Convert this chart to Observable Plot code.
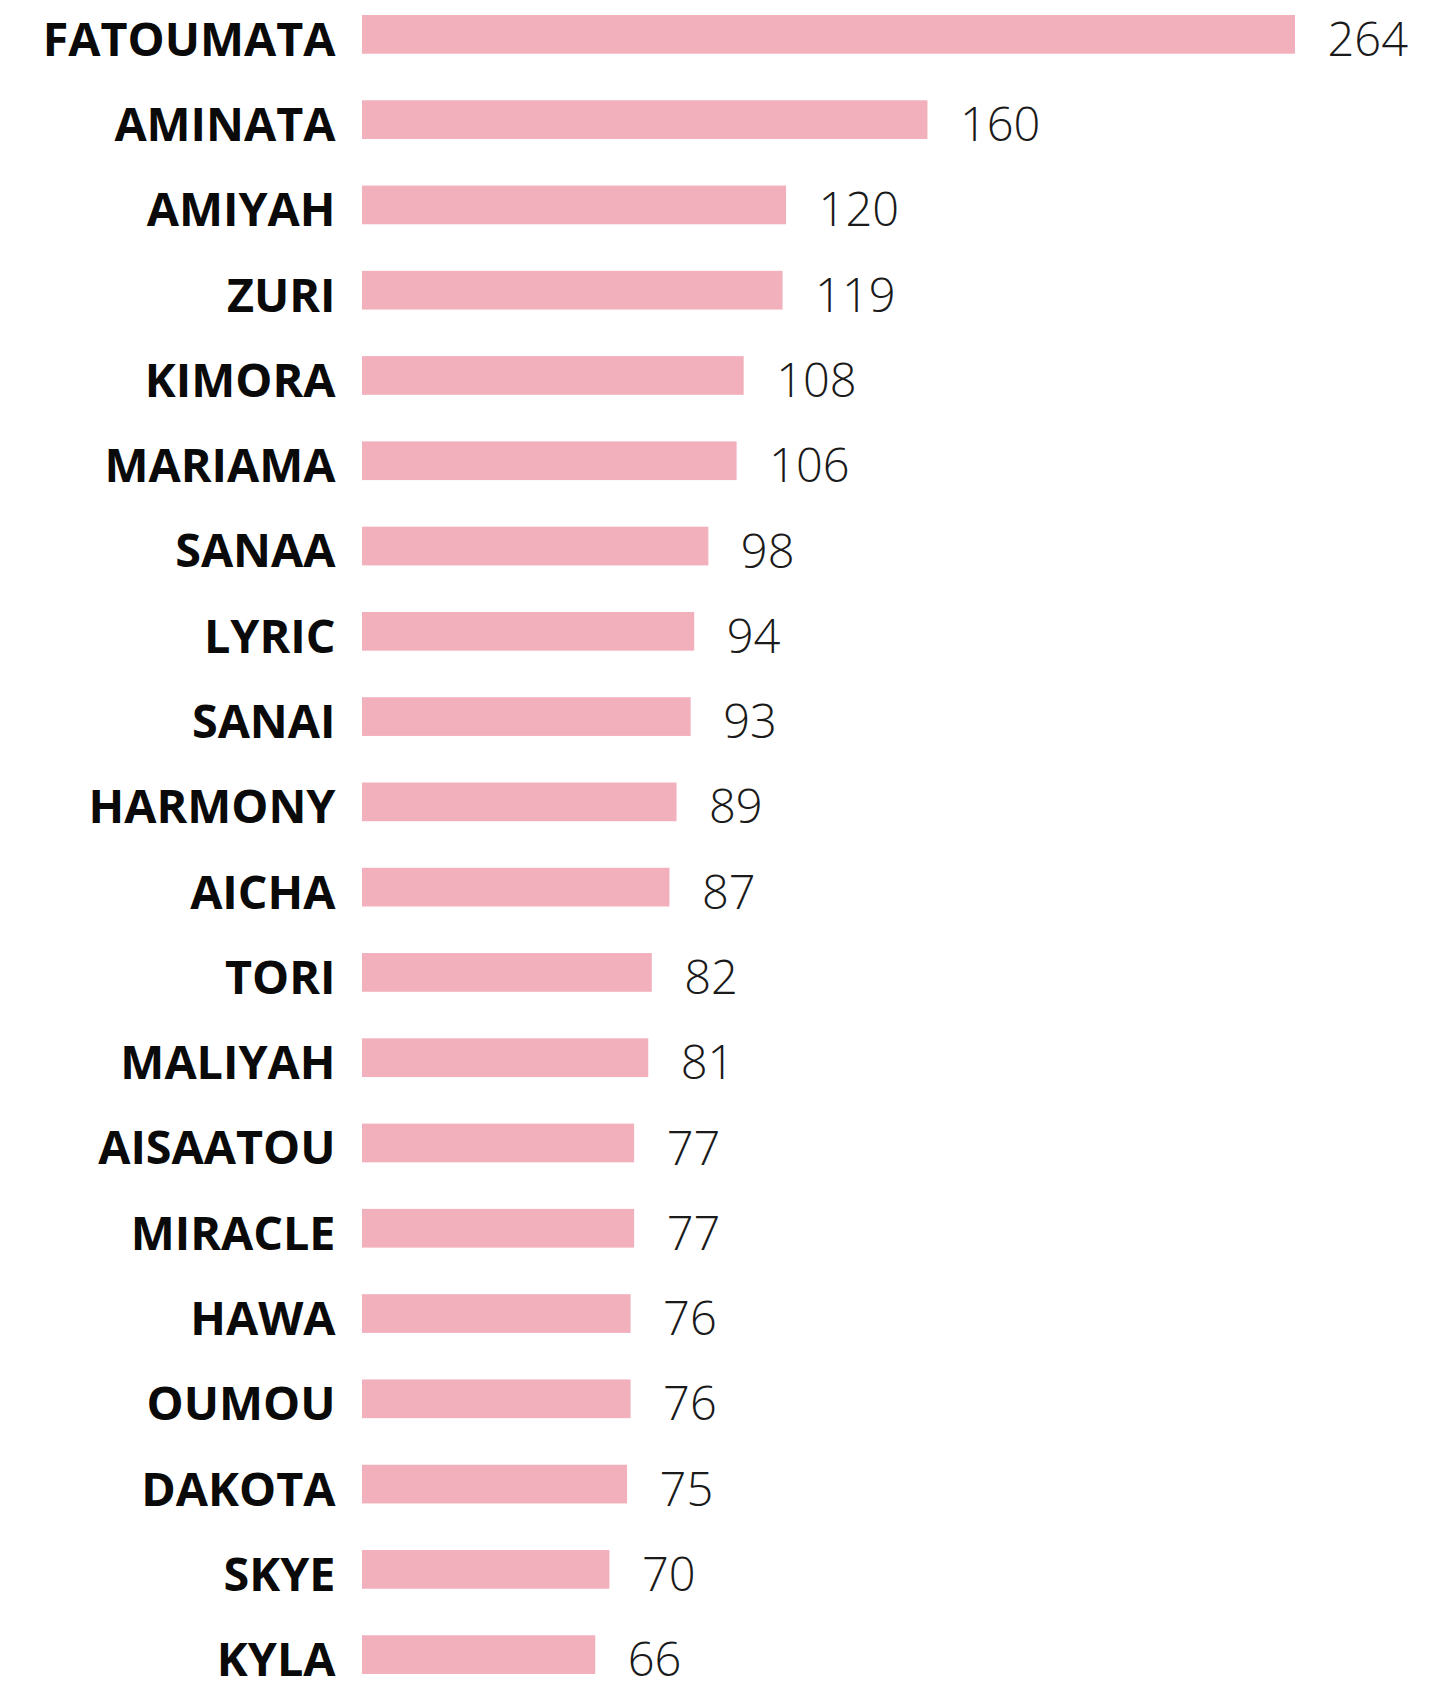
<!DOCTYPE html>
<html>
<head>
<meta charset="utf-8">
<script src="https://cdn.jsdelivr.net/npm/d3@7"></script>
<script src="https://cdn.jsdelivr.net/npm/@observablehq/plot@0.6"></script>
<style>
  html, body { margin: 0; padding: 0; background: #fff; }
  #chart svg { display: block; }
</style>
</head>
<body>
<div id="chart"></div>
<script>
const names = ["FATOUMATA","AMINATA","AMIYAH","ZURI","KIMORA","MARIAMA","SANAA","LYRIC","SANAI","HARMONY","AICHA","TORI","MALIYAH","AISAATOU","MIRACLE","HAWA","OUMOU","DAKOTA","SKYE","KYLA"];
const counts = [264,160,120,119,108,106,98,94,93,89,87,82,81,77,77,76,76,75,70,66];

const data = names.map((name, i) => ({name, count: counts[i]}));

const chart = Plot.plot({
  width: 1446,
  height: 1685,
  marginLeft: 362,
  marginRight: 151,
  marginTop: 15,
  marginBottom: 11,
  style: {fontFamily: "'Open Sans', sans-serif", background: "#fff"},
  x: {domain: [0, 264], axis: null},
  y: {domain: names, axis: null, paddingInner: 0.546, paddingOuter: 0, round: false},
  marks: [
    Plot.barX(data, {x: "count", y: "name", fill: "#f2b0bd"}),
    Plot.text(data, {x: 0, y: "name", text: "name", textAnchor: "end", dx: -27, dy: 6,
      fontSize: 46.7, fontWeight: 700, fill: "#0a0a0a"}),
    Plot.text(data, {x: "count", y: "name", text: d => String(d.count), textAnchor: "start", dx: 32, dy: 6,
      fontSize: 47, fontWeight: 300, fill: "#1a1a1a"})
  ]
});
document.getElementById("chart").appendChild(chart);
</script>
</body>
</html>
